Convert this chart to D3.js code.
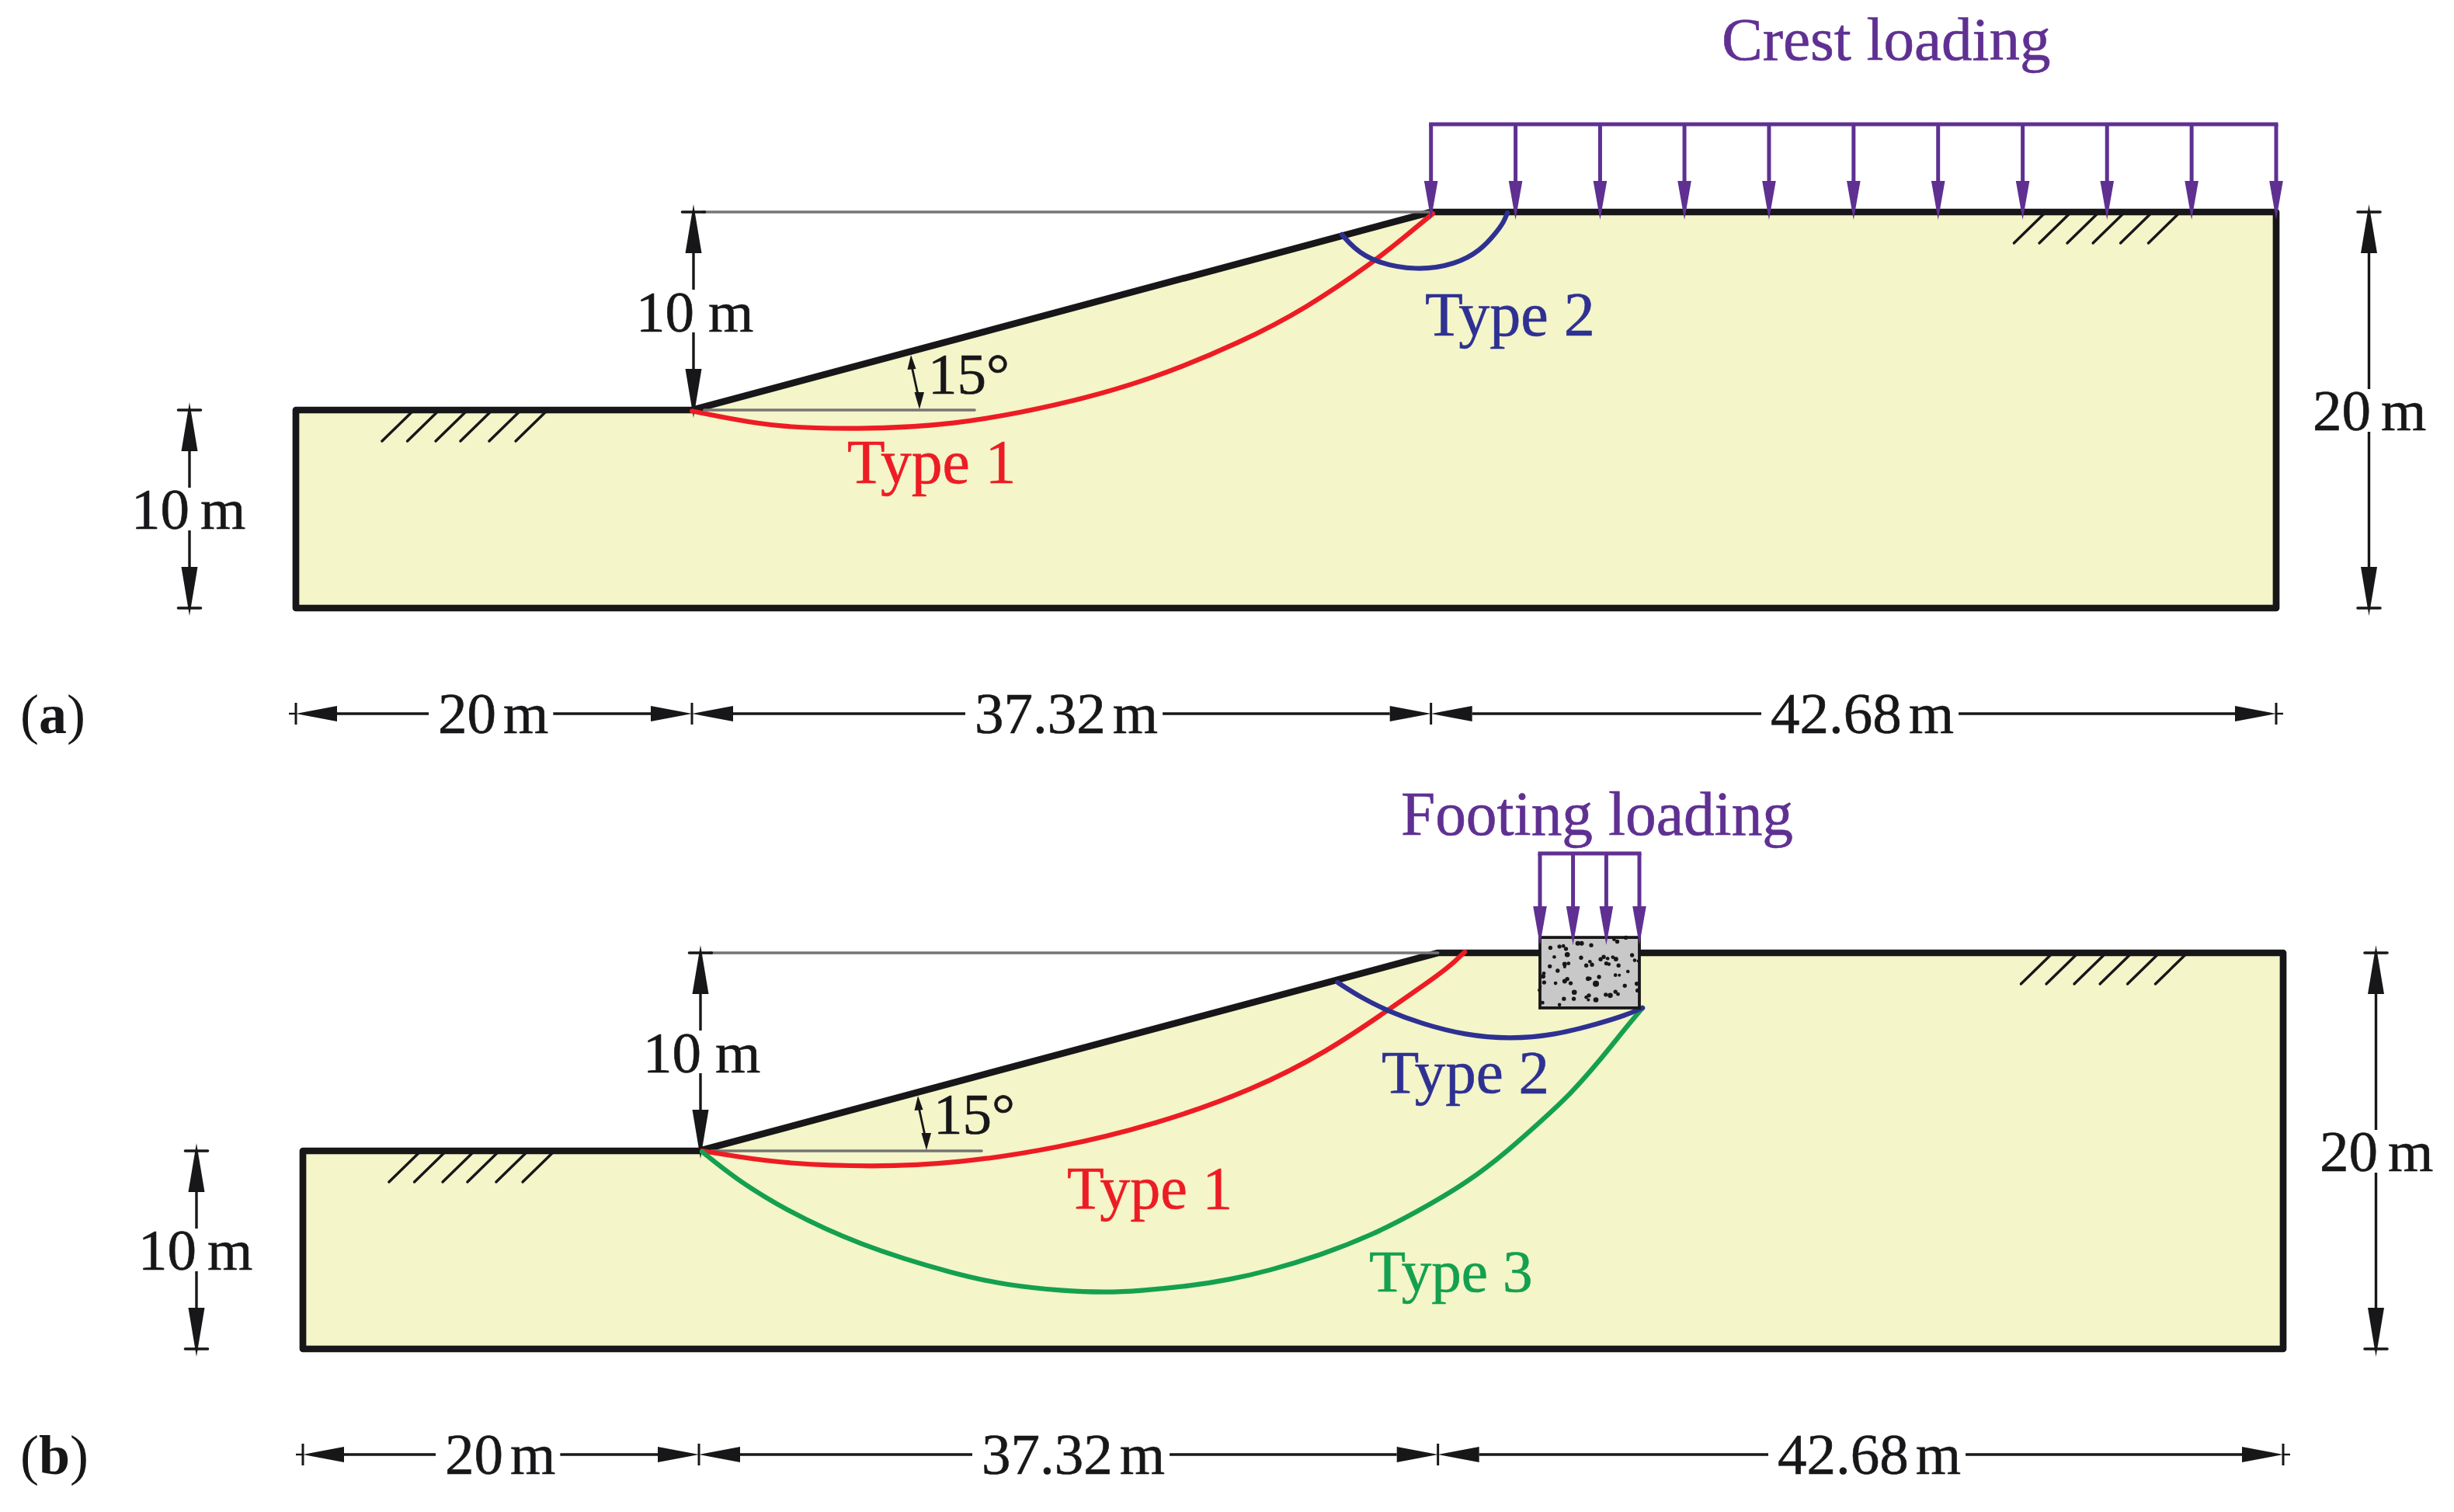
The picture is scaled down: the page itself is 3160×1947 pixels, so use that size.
<!DOCTYPE html>
<html><head><meta charset="utf-8">
<script src="https://cdn.jsdelivr.net/npm/d3@7"></script>
<style>html,body{margin:0;padding:0;background:#fff;overflow:hidden}svg{display:block}text{font-family:"Liberation Serif",serif;stroke-width:.6px;paint-order:stroke}</style>
</head><body><svg id="c" width="3160" height="1947" viewBox="0 0 3160 1947"></svg>
<script>
// Geometry in metres (x along the section, y height above the base)
const groundProfile = [[0,0],[0,10],[20,10],[57.32,20],[100,20],[100,0]];
const dimBreaks = [0,20,57.32,100];
const dimLabels = ["20","37.32","42.68"];
const crestLoadX = [57.32,61.59,65.86,70.12,74.39,78.66,82.93,87.2,91.46,95.73,100];
const footingLoadX = [62.47,64.14,65.82,67.49];
const footingBox = [[62.47,17.22],[67.49,20.78]];
const hatchToe = [4.35,5.63,7.06,8.31,9.76,11.1];
const hatchCrest = [86.76,88.04,89.45,90.75,92.14,93.55];
const slipA1 = [[20,9.95],[22,9.55],[24.39,9.14],[28.24,9.02],[33.14,9.22],[38.39,10.2],[43.1,11.49],[47.8,13.45],[51.02,15.14],[54.39,17.45],[56,18.75],[57.41,19.92]];
const slipA2 = [[52.82,18.86],[53.4,18.2],[54.39,17.49],[56.6,17.02],[58.6,17.37],[59.8,18.04],[60.6,18.94],[61,19.5],[61.18,19.96]];
const slipB1 = [[20.16,10],[22,9.7],[24.27,9.37],[28.78,9.18],[33.06,9.37],[38.04,10.12],[43.06,11.33],[48.04,13.1],[51.8,15.06],[54.67,17.02],[57.65,19.1],[58.2,19.6],[58.67,20.04]];
const slipB2 = [[52.25,18.51],[53.45,17.73],[54.8,17.06],[56.47,16.43],[58.7,15.84],[60.96,15.65],[63.2,15.84],[65.45,16.43],[66.8,16.85],[67.65,17.22]];
const slipB3 = [[20.16,9.96],[21.8,8.63],[24.27,7.06],[28.04,5.25],[33.06,3.73],[35.69,3.2],[38.31,2.94],[40.51,2.85],[42.24,2.93],[44.82,3.18],[46.78,3.49],[48.75,3.94],[51.37,4.72],[54,5.76],[56.08,6.82],[58.86,8.43],[60.94,10.08],[62.63,11.6],[63.96,12.82],[65.45,14.51],[66.82,16.24],[67.65,17.22]];
const stipple = [[75,35,8],[40,40,8],[90,33,7],[100,44,8],[145,23,9],[160,23,9],[197,30,8],[285,8,7],[297,16,8],[330,1,8],[55,75,7],[105,66,10],[158,78,8],[38,111,8],[95,103,9],[110,100,7],[95,113,6],[68,128,8],[178,108,8],[192,93,7],[200,105,8],[233,84,8],[245,75,8],[260,81,7],[255,100,8],[265,103,7],[280,76,7],[292,83,9],[302,108,8],[354,68,8],[364,88,7],[378,91,6],[338,131,7],[290,145,7],[305,145,6],[227,152,8],[185,159,9],[192,158,7],[95,168,9],[105,160,8],[118,176,8],[60,176,7],[15,138,7],[12,150,9],[16,173,8],[-2,203,7],[2,190,5],[215,178,12],[326,186,8],[372,178,8],[375,204,8],[132,211,10],[290,209,8],[300,218,7],[270,223,10],[253,220,8],[188,223,8],[178,230,7],[186,240,6],[215,240,10],[92,236,8],[130,236,8],[10,251,7],[75,259,7]];
const slopeAngleArrow = [[31.06,12.78],[31.49,10.04]];

const COL = {ink:"#171619",grey:"#757575",soil:"#f4f5c8",foot:"#c8c8c8",red:"#ed1c24",blue:"#2e3192",green:"#14a04f",purple:"#5f3092"};
const FS = 75;
const svg = d3.select("#c");
const xM = d3.scaleLinear([0,100],[381,2931]);
const yM = d3.scaleLinear([0,20],[783,273]);
const curve = d3.line().x(d=>xM(d[0])).y(d=>yM(d[1])).curve(d3.curveBasis);

function tri(g,pts,fill){g.append("path").attr("d","M"+pts.map(p=>p.join(",")).join("L")+"Z").attr("fill",fill);}
function seg(g,x1,y1,x2,y2,col,w,cap){return g.append("line").attr("x1",x1).attr("y1",y1).attr("x2",x2).attr("y2",y2).attr("stroke",col).attr("stroke-width",w).attr("stroke-linecap",cap||"butt");}
function label(g,parts,x,y,col,gap,size){
  const c=col||COL.ink;
  const t=g.append("text").attr("x",x).attr("y",y).attr("fill",c).attr("stroke",c).attr("font-size",size||FS);
  parts.forEach((p,i)=>{const s=t.append("tspan").text(p); if(i&&gap) s.attr("dx",gap);});
  return t;
}
function hDim(g,x0,x1,y,txt,tx,baseline){
  const t=label(g,[txt,"m"],tx,baseline,COL.ink,9);
  const w=t.node().getBBox().width;
  const L=53,H=10;
  seg(g,x0+L,y,tx-12,y,COL.ink,3.6);
  seg(g,tx+w+6,y,x1-L,y,COL.ink,3.6);
  tri(g,[[x0,y],[x0+L,y-H],[x0+L,y+H]],COL.ink);
  tri(g,[[x1,y],[x1-L,y-H],[x1-L,y+H]],COL.ink);
}
function vDim(g,x,y0,y1,top,bot,tick0,tick1){
  const L=53,H=10.5;
  seg(g,x,y0+L,x,top,COL.ink,3.4);
  seg(g,x,bot,x,y1-L,COL.ink,3.4);
  tri(g,[[x,y0-10],[x+H,y0+L],[x-H,y0+L]],COL.ink);
  tri(g,[[x,y1+10],[x+H,y1-L],[x-H,y1-L]],COL.ink);
  if(tick0) seg(g,x-14.5,y0,x+14.5,y0,COL.ink,3.6,"round");
  if(tick1) seg(g,x-14.5,y1,x+14.5,y1,COL.ink,3.6,"round");
}
function loadArrows(g,xs,barY,headY,tipY){
  const px=xs.map(xM);
  seg(g,px[0]-2.5,barY,px[px.length-1]+2.5,barY,COL.purple,5);
  px.forEach(x=>{
    seg(g,x,barY,x,headY+2,COL.purple,5);
    tri(g,[[x-8.8,headY],[x+8.8,headY],[x,tipY]],COL.purple);
  });
}
function hatch(g,list,level){
  list.forEach(m=>seg(g,xM(m),yM(level)+40,xM(m)+41,yM(level),COL.ink,3.4,"round"));
}
const y10=yM(10), y20=yM(20), y0=yM(0);

function panel(p){
  const g=svg.append("g").attr("transform",`translate(${p.dx},${p.dy})`);
  g.append("path").attr("d","M"+groundProfile.map(d=>[xM(d[0]),yM(d[1])].join(",")).join("L")+"Z")
    .attr("fill",COL.soil).attr("stroke","none");
  hatch(g,hatchToe,10); hatch(g,hatchCrest,20);
  g.append("path").attr("d","M"+groundProfile.map(d=>[xM(d[0]),yM(d[1])].join(",")).join("L")+"Z")
    .attr("fill","none").attr("stroke",COL.ink).attr("stroke-width",8.7).attr("stroke-linejoin","round");
  // reference lines
  seg(g,905,y20,xM(57.32),y20,COL.grey,3.6,"round");
  seg(g,907,y10,1255,y10,COL.grey,3.6,"round");
  // slope angle
  const [a,b]=slopeAngleArrow.map(d=>[xM(d[0]),yM(d[1])]);
  seg(g,a[0],a[1]+10,b[0],b[1]-10,COL.ink,2.8);
  tri(g,[a,[a[0]-4.5,a[1]+19],[a[0]+6.5,a[1]+18]],COL.ink);
  tri(g,[b,[b[0]-6.5,b[1]-22],[b[0]+6,b[1]-22]],COL.ink);
  label(g,["15°"],p.ang[0],p.ang[1]);
  // dimensions
  vDim(g,244,y10,y0,628,683,true,true);
  label(g,["10","m"],169,681,COL.ink,14);
  vDim(g,xM(20)+2,y20,y10,373,428,true,false);
  label(g,["10","m"],819,427,COL.ink,18);
  vDim(g,3050.5,y20,y0,501,556,true,true);
  label(g,["20","m"],2978,554,COL.ink,13);
  const hx=[564,1255,2280];
  dimLabels.forEach((t,i)=>hDim(g,xM(dimBreaks[i]),xM(dimBreaks[i+1]),919,t,hx[i],944));
  dimBreaks.forEach(m=>seg(g,xM(m),905,xM(m),933,COL.ink,3));
  seg(g,xM(0)-9,919,xM(0),919,COL.ink,2.4); seg(g,xM(100),919,xM(100)+9,919,COL.ink,2.4);
  // panel tag
  const tag=g.append("text").attr("x",26-p.dx).attr("y",944).attr("font-size",72).attr("fill",COL.ink);
  tag.append("tspan").text("(");
  tag.append("tspan").attr("font-weight","bold").text(p.tag);
  tag.append("tspan").text(")");
  return g;
}
function slip(g,data,col){g.append("path").attr("d",curve(data)).attr("fill","none").attr("stroke",col).attr("stroke-width",6.2).attr("stroke-linecap","round");}

const A=panel({dx:0,dy:0,tag:"a",ang:[1195,507]});
slip(A,slipA1,COL.red); slip(A,slipA2,COL.blue);
loadArrows(A,crestLoadX,160,233,283);

const B=panel({dx:9,dy:954,tag:"b",ang:[1193,506]});
// footing with stipple
const fx0=xM(footingBox[0][0]), fx1=xM(footingBox[1][0]), fy0=yM(footingBox[1][1]), fy1=yM(footingBox[0][1]);
slip(B,slipB1,COL.red); slip(B,slipB3,COL.green); slip(B,slipB2,COL.blue);
B.append("rect").attr("x",fx0).attr("y",fy0).attr("width",fx1-fx0).attr("height",fy1-fy0).attr("fill",COL.foot);
const sx=d3.scaleLinear([0,382],[fx0,fx1]), sy=d3.scaleLinear([0,271],[fy0,fy1]);
B.selectAll("circle.st").data(stipple).join("circle").attr("class","st")
  .attr("cx",d=>sx(d[0])).attr("cy",d=>sy(d[1])).attr("r",d=>d[2]/3).attr("fill",COL.ink);
B.append("rect").attr("x",fx0).attr("y",fy0).attr("width",fx1-fx0).attr("height",fy1-fy0)
  .attr("fill","none").attr("stroke",COL.ink).attr("stroke-width",3.8);
loadArrows(B,footingLoadX,145,213,263);

// slip-surface and load names
label(svg,["Type 1"],1091,622,COL.red,0,79.5);
label(svg,["Type 2"],1835,432,COL.blue,0,80);
label(svg,["Type 1"],1374,1556,COL.red,0,78);
label(svg,["Type 2"],1779,1407,COL.blue,0,79);
label(svg,["Type 3"],1763,1663,COL.green,0,77);
label(svg,["Crest loading"],2217,77,COL.purple,0,79);
label(svg,["Footing loading"],1804,1075,COL.purple,0,79.4);
</script></body></html>
